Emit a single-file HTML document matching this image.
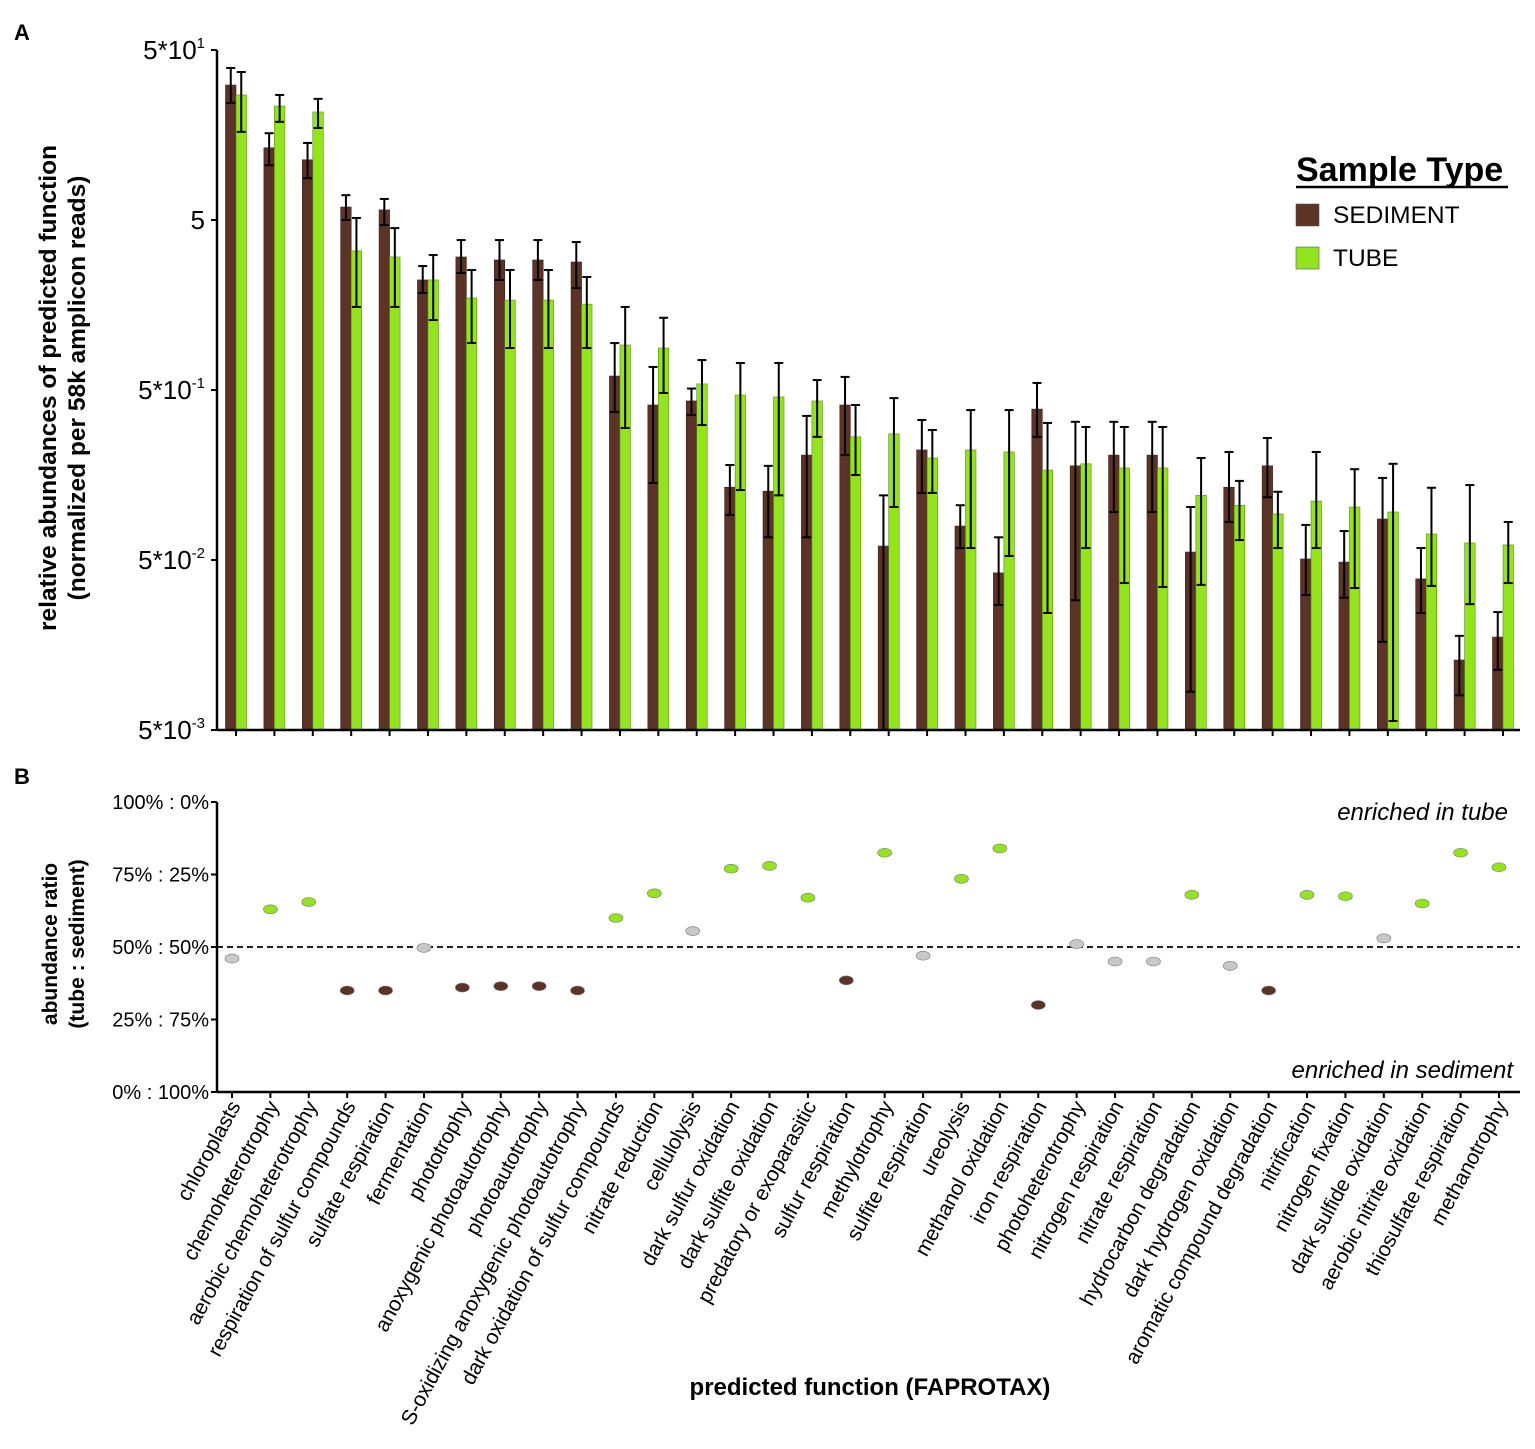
<!DOCTYPE html>
<html><head><meta charset="utf-8"><style>
body{margin:0;background:#fff;}
svg{display:block;font-family:"Liberation Sans",Arial,sans-serif;}
</style></head><body>
<svg id="chart" width="1535" height="1449" viewBox="0 0 1535 1449" xmlns="http://www.w3.org/2000/svg"></svg>
<script>
const categories=["chloroplasts","chemoheterotrophy","aerobic chemoheterotrophy","respiration of sulfur compounds","sulfate respiration","fermentation","phototrophy","anoxygenic photoautotrophy","photoautotrophy","S-oxidizing anoxygenic photoautotrophy","dark oxidation of sulfur compounds","nitrate reduction","cellulolysis","dark sulfur oxidation","dark sulfite oxidation","predatory or exoparasitic","sulfur respiration","methylotrophy","sulfite respiration","ureolysis","methanol oxidation","iron respiration","photoheterotrophy","nitrogen respiration","nitrate respiration","hydrocarbon degradation","dark hydrogen oxidation","aromatic compound degradation","nitrification","nitrogen fixation","dark sulfide oxidation","aerobic nitrite oxidation","thiosulfate respiration","methanotrophy"];
const sedimentMean=[31.1,13.3,11.3,5.96,5.73,2.22,3.03,2.91,2.91,2.83,0.604,0.408,0.431,0.134,0.127,0.207,0.408,0.0604,0.222,0.0792,0.042,0.386,0.179,0.207,0.207,0.0557,0.134,0.179,0.0507,0.0486,0.0871,0.0387,0.0129,0.0176];
const sedimentLow=[24.4,10.5,8.8,5.0,4.67,1.86,2.44,2.22,2.22,1.99,0.371,0.142,0.356,0.092,0.068,0.068,0.207,0.005,0.124,0.0588,0.0272,0.265,0.029,0.0958,0.0958,0.0084,0.0837,0.117,0.0311,0.03,0.0165,0.0244,0.008,0.0113];
const sedimentHigh=[39.2,16.2,14.2,7.0,6.65,2.68,3.81,3.81,3.81,3.71,0.944,0.683,0.51,0.181,0.179,0.352,0.597,0.12,0.333,0.105,0.068,0.55,0.325,0.325,0.325,0.1025,0.216,0.261,0.0804,0.074,0.152,0.0588,0.0179,0.0247];
const tubeMean=[27.2,23.4,21.6,3.29,3.03,2.22,1.74,1.69,1.69,1.6,0.92,0.883,0.543,0.467,0.455,0.431,0.265,0.276,0.199,0.222,0.216,0.169,0.184,0.174,0.174,0.12,0.105,0.0933,0.111,0.1025,0.0958,0.0711,0.063,0.0613];
const tubeLow=[16.5,18.9,17.4,1.54,1.54,1.29,0.945,0.883,0.883,0.883,0.299,0.48,0.311,0.129,0.12,0.265,0.158,0.1025,0.124,0.0588,0.0528,0.0244,0.0588,0.0366,0.0347,0.0357,0.0655,0.0588,0.0588,0.0342,0.00565,0.0352,0.0275,0.0366];
const tubeHigh=[37.1,27.2,25.8,5.14,4.48,3.11,2.54,2.54,2.54,2.31,1.54,1.33,0.75,0.721,0.721,0.572,0.408,0.448,0.291,0.381,0.381,0.32,0.303,0.303,0.303,0.199,0.146,0.126,0.216,0.171,0.184,0.133,0.138,0.0837];
const ratioPct=[46,63,65.5,35,35,49.7,36,36.5,36.5,35,60,68.5,55.5,77,78,67,38.5,82.5,47,73.5,84,30,51,45,45,68,43.5,35,68,67.5,53,65,82.5,77.5];
const enrichment=["n","t","t","s","s","n","s","s","s","s","t","t","n","t","t","t","s","t","n","t","t","s","n","n","n","t","n","s","t","t","n","t","t","t"];
const yTickExp=[1,0,-1,-2,-3];
const bTicks=[100,75,50,25,0];

const NS="http://www.w3.org/2000/svg";
const svg=document.getElementById('chart');
function el(tag,attrs,parent,text){const e=document.createElementNS(NS,tag);for(const k in attrs)e.setAttribute(k,attrs[k]);if(text!==undefined)e.textContent=text;(parent||svg).appendChild(e);return e;}
const BROWN="#5b3427",GREEN="#93e31f",GREY="#c8c8c8";
const xL=217,xR=1520;
const xPos=i=>236+i*(1503-236)/(categories.length-1);
const aTop=50,aBot=730;
const yA=v=>aTop+(Math.log10(50)-Math.log10(v))*(aBot-aTop)/4;
const bTop=802,bBot=1092;
const yB=p=>bBot-p/100*(bBot-bTop);

let t=el('text',{x:14,y:40,'font-size':22,'font-weight':'bold'},svg,'A');

t=el('text',{x:14,y:784,'font-size':22,'font-weight':'bold'},svg,'B');


const gA=el('g',{});
yTickExp.forEach(e=>{const y=yA(5*Math.pow(10,e));
 el('line',{x1:211,x2:xL,y1:y,y2:y,stroke:'#000','stroke-width':2},gA);
 const tx=el('text',{x:205,y:y+9,'font-size':26,'text-anchor':'end'},gA);
 
 if(e===0){tx.textContent='5';}else{tx.textContent='5*10';el('tspan',{'font-size':15,dy:-11},tx,String(e));}
});
categories.forEach((c,i)=>{const x=xPos(i);
 const b1=el('rect',{x:x-10.5,y:yA(sedimentMean[i]),width:10.5,height:aBot-yA(sedimentMean[i]),fill:BROWN,stroke:'#3a2018','stroke-width':0.6},gA);
 
 const b2=el('rect',{x:x,y:yA(tubeMean[i]),width:10.5,height:aBot-yA(tubeMean[i]),fill:GREEN,stroke:'#5a8a18','stroke-width':0.6},gA);
 
 [[x-5.25,sedimentLow[i],sedimentHigh[i]],[x+5.25,tubeLow[i],tubeHigh[i]]].forEach(([cx,lo,hi])=>{
  const g=el('g',{stroke:'#000','stroke-width':2},gA);
  
  const y1=Math.min(yA(lo),aBot),y2=yA(hi);
  el('line',{x1:cx,x2:cx,y1:y1,y2:y2},g);
  el('line',{x1:cx-4.5,x2:cx+4.5,y1:y2,y2:y2},g);
  if(yA(lo)<aBot)el('line',{x1:cx-4.5,x2:cx+4.5,y1:y1,y2:y1},g);
 });
 el('line',{x1:x,x2:x,y1:aBot,y2:aBot+6,stroke:'#000','stroke-width':2},gA);
});
el('line',{x1:xL,x2:xL,y1:aTop,y2:aBot+1,stroke:'#000','stroke-width':2.5},gA);
el('line',{x1:xL,x2:xR,y1:aBot,y2:aBot,stroke:'#000','stroke-width':2.5},gA);
t=el('text',{transform:'translate(56,388) rotate(-90)','font-size':24.5,'font-weight':'bold','text-anchor':'middle'},svg,'relative abundances of predicted function');

t=el('text',{transform:'translate(85,388) rotate(-90)','font-size':24.5,'font-weight':'bold','text-anchor':'middle'},svg,'(normalized per 58k amplicon reads)');


const lg=el('g',{});
t=el('text',{x:1296,y:181,'font-size':34,'font-weight':'bold'},lg,'Sample Type');

el('line',{x1:1296,x2:1508,y1:187,y2:187,stroke:'#000','stroke-width':2.5},lg);
[[BROWN,'SEDIMENT',204],[GREEN,'TUBE',247]].forEach(([c,l,y])=>{
 const r=el('rect',{x:1296,y:y,width:23,height:22,fill:c,stroke:'#555','stroke-width':0.6},lg);
 
 const tt=el('text',{x:1333,y:y+19,'font-size':24.5},lg,l);
 
});

const gB=el('g',{});
bTicks.forEach(p=>{const y=yB(p);
 el('line',{x1:211,x2:xL,y1:y,y2:y,stroke:'#000','stroke-width':2},gB);
 const tx=el('text',{x:209,y:y+7,'font-size':20,'text-anchor':'end'},gB,p+'% : '+(100-p)+'%');
 
});
el('line',{x1:xL,x2:xR,y1:yB(50),y2:yB(50),stroke:'#000','stroke-width':1.8,'stroke-dasharray':'6,4'},gB);
categories.forEach((c,i)=>{const x=xPos(i);
 const col=enrichment[i]==='t'?GREEN:enrichment[i]==='s'?BROWN:GREY;
 const pt=el('ellipse',{cx:x-4,cy:yB(ratioPct[i]),rx:7,ry:4.5,fill:col,stroke:'#777','stroke-width':0.6},gB);
 
 el('line',{x1:x-4,x2:x-4,y1:bBot,y2:bBot+6,stroke:'#000','stroke-width':2},gB);
 const lx=x+5,ly=bBot+14;
 const lab=el('text',{transform:`translate(${lx},${ly}) rotate(-61.5)`,'font-size':21,'text-anchor':'end','letter-spacing':-0.2},gB,c);
 
});
el('line',{x1:xL,x2:xL,y1:bTop,y2:bBot+1,stroke:'#000','stroke-width':2.5},gB);
el('line',{x1:xL,x2:xR,y1:bBot,y2:bBot,stroke:'#000','stroke-width':2.5},gB);
t=el('text',{x:1508,y:820,'font-size':24,'font-style':'italic','text-anchor':'end'},gB,'enriched in tube');

t=el('text',{x:1513,y:1078,'font-size':24,'font-style':'italic','text-anchor':'end'},gB,'enriched in sediment');

t=el('text',{transform:'translate(57,944) rotate(-90)','font-size':21,'font-weight':'bold','text-anchor':'middle'},svg,'abundance ratio');

t=el('text',{transform:'translate(84,944) rotate(-90)','font-size':21,'font-weight':'bold','text-anchor':'middle'},svg,'(tube : sediment)');

t=el('text',{x:870,y:1395,'font-size':24,'font-weight':'bold','text-anchor':'middle'},svg,'predicted function (FAPROTAX)');

</script>
</body></html>
